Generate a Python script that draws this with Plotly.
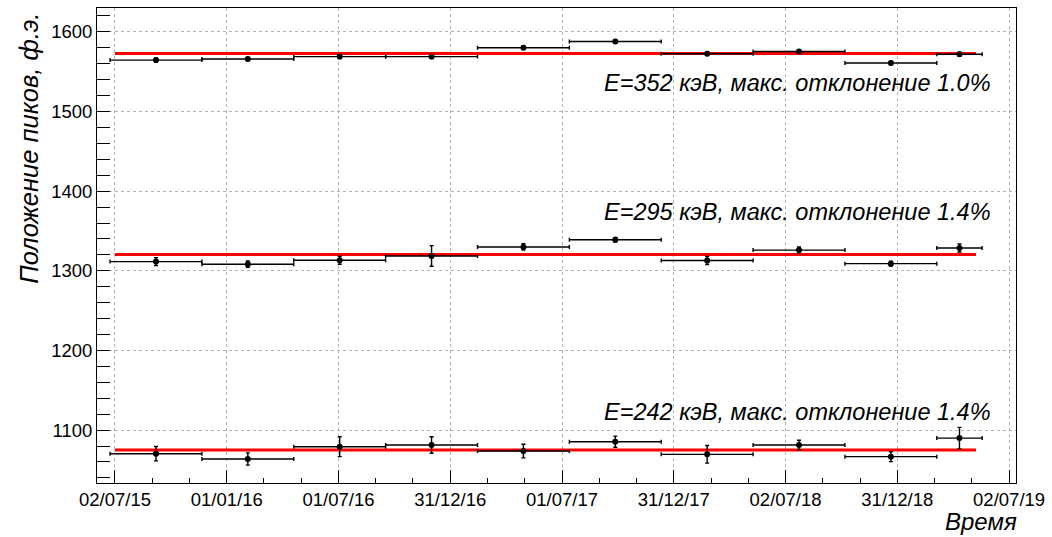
import pandas as pd
import plotly.graph_objects as go

# Time origin of the axis and the date labels every half year
t0 = pd.Timestamp("2015-07-02")
tick_labels = ["02/07/15", "01/01/16", "01/07/16", "31/12/16", "01/07/17",
               "31/12/17", "02/07/18", "31/12/18", "02/07/19"]
half_year_days = 182.5

# Measurement periods (bin edges)
bin_edges = ["2015-06-24", "2015-11-21", "2016-04-19", "2016-09-16", "2017-02-13",
             "2017-07-13", "2017-12-10", "2018-05-09", "2018-10-06", "2019-03-05",
             "2019-05-18"]
fit_end = "2019-05-08"

# Peak positions (photoelectrons) and their errors for each line
energies = [352, 295, 242]
peak_352 = [1564.6, 1566.0, 1569.0, 1569.0, 1580.0, 1588.0, 1572.5, 1575.4, 1561.0, 1572.0]
err_352 = [2.5, 2.0, 2.5, 2.5, 2.0, 2.0, 2.0, 2.0, 2.0, 2.5]
peak_295 = [1311.6, 1308.3, 1313.3, 1318.7, 1330.0, 1339.0, 1313.0, 1326.0, 1309.0, 1328.7]
err_295 = [5.0, 4.0, 5.0, 13.0, 4.0, 3.0, 5.0, 4.0, 3.0, 5.0]
peak_242 = [1070.4, 1063.7, 1079.2, 1081.3, 1073.7, 1085.4, 1069.6, 1081.3, 1066.7, 1090.0]
err_242 = [9.0, 7.7, 12.5, 10.4, 8.5, 7.0, 11.0, 6.0, 6.2, 13.5]

# Constant fit level for each line
fit_levels = [1573.0, 1320.5, 1075.0]

peaks = [peak_352, peak_295, peak_242]
errors = [err_352, err_295, err_242]

# Convert dates to days since t0
edges_d = [(pd.Timestamp(e) - t0).days for e in bin_edges]
centers = [(a + b) / 2 for a, b in zip(edges_d[:-1], edges_d[1:])]
halfw = [(b - a) / 2 for a, b in zip(edges_d[:-1], edges_d[1:])]
fit_x = [0, (pd.Timestamp(fit_end) - t0).days]

FONT = "Liberation Sans, Arial, Helvetica, sans-serif"

fig = go.Figure()

for level in fit_levels:
    fig.add_trace(go.Scatter(
        x=fit_x, y=[level, level], mode="lines",
        line=dict(color="#ff0000", width=3), showlegend=False, hoverinfo="skip"))

for vals, errs in zip(peaks, errors):
    fig.add_trace(go.Scatter(
        x=centers, y=vals, mode="markers",
        marker=dict(color="black", size=6, symbol="circle"),
        error_x=dict(type="data", array=halfw, color="black", thickness=1.4, width=2),
        error_y=dict(type="data", array=errs, color="black", thickness=1.4, width=2),
        showlegend=False))

# Plot-area geometry in pixels, used to place the text labels
L, R, T, B = 97, 1020, 7, 483
W, H = R - L, B - T


def px(x):
    return (x - L) / W


def py(y):
    return (B - y) / H


label_y = [82, 211, 412]
annotations = []
for e, vals, level, yy in zip(energies, peaks, fit_levels, label_y):
    dev = max(abs(v - level) for v in vals) / level * 100
    annotations.append(dict(
        text=f"<i>E={e} кэВ, макс. отклонение {dev:.1f}%</i>",
        xref="paper", yref="paper", x=px(997), y=py(yy),
        xanchor="right", yanchor="middle", showarrow=False,
        font=dict(family=FONT, size=23.5, color="black")))

annotations.append(dict(
    text="<i>Положение пиков, ф.э.</i>", textangle=-90,
    xref="paper", yref="paper", x=px(29), y=py(10),
    xanchor="center", yanchor="top", showarrow=False,
    font=dict(family=FONT, size=25.5, color="black")))
annotations.append(dict(
    text="<i>Время</i>",
    xref="paper", yref="paper", x=px(1023), y=py(522),
    xanchor="right", yanchor="middle", showarrow=False,
    font=dict(family=FONT, size=24, color="black")))

x_major = [k * half_year_days for k in range(len(tick_labels))]
x_minor = [k * half_year_days / 3 for k in range(-1, 3 * len(tick_labels))]

fig.update_layout(
    width=1052, height=537,
    margin=dict(l=L, r=1052 - R, t=T, b=537 - B),
    paper_bgcolor="white", plot_bgcolor="white",
    font=dict(family=FONT, size=18, color="black"),
    annotations=annotations,
    xaxis=dict(
        range=[-29.3, 1471.3], tickmode="array", tickvals=x_major, ticktext=tick_labels,
        ticks="inside", ticklen=13, tickcolor="black", tickwidth=1,
        showline=True, linecolor="black", linewidth=1, mirror=True,
        showgrid=True, gridcolor="#b4b4b4", griddash="dot", gridwidth=1,
        zeroline=False, tickfont=dict(size=18.5),
        minor=dict(tickmode="array", tickvals=x_minor, ticks="inside", ticklen=5,
                   tickcolor="black", showgrid=False),
    ),
    yaxis=dict(
        range=[1033.6, 1630], tick0=0, dtick=100,
        ticks="inside", ticklen=13, tickcolor="black", tickwidth=1,
        showline=True, linecolor="black", linewidth=1, mirror=True,
        showgrid=True, gridcolor="#b4b4b4", griddash="dot", gridwidth=1,
        zeroline=False, tickfont=dict(size=18.5),
        minor=dict(dtick=20, ticks="inside", ticklen=13, tickcolor="black", showgrid=False),
    ),
)

fig.write_html("out.html")
